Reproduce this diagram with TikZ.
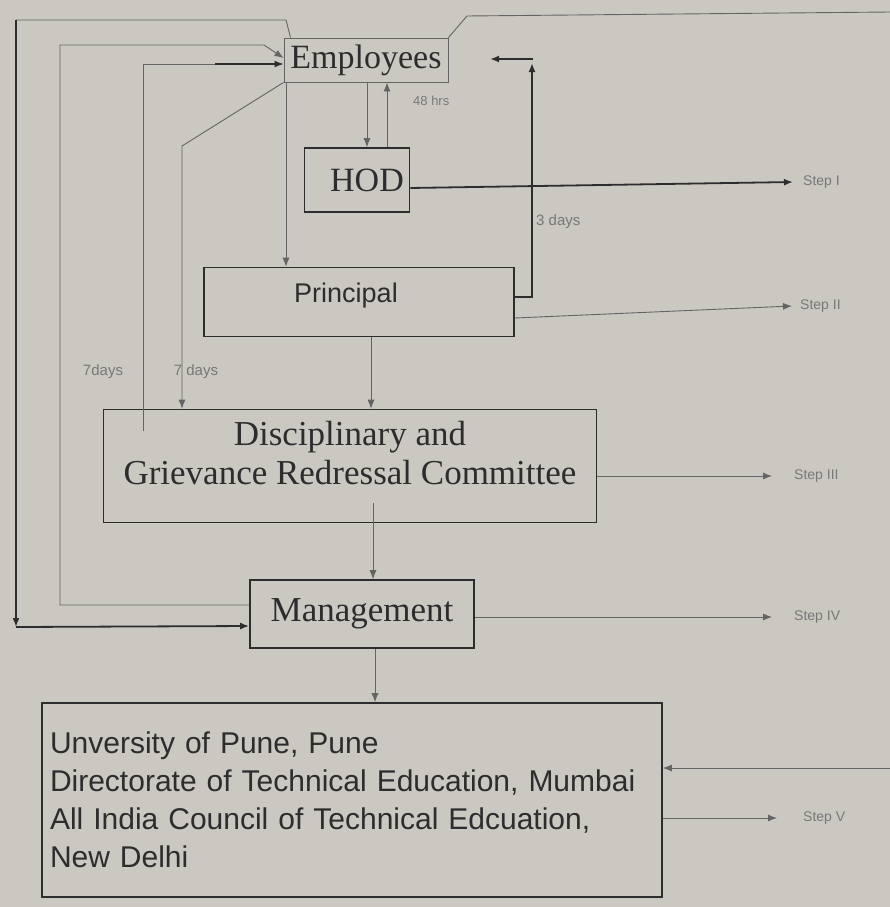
\documentclass[tikz,border=0pt]{standalone}
\usepackage{fontspec}
\setmainfont{Liberation Serif}
\setsansfont{Liberation Sans}
\usetikzlibrary{arrows.meta}
\definecolor{bg}{RGB}{203,200,194}
\definecolor{ink}{RGB}{45,45,45}
\definecolor{thin}{RGB}{100,100,100}
\definecolor{lab}{RGB}{120,120,120}
\begin{document}
\begin{tikzpicture}[x=1pt,y=-1pt,
  box/.style={draw=ink, line width=1.6pt, inner sep=0pt, text=ink},
  txt/.style={inner sep=0pt, text=ink},
  ln/.style={draw=thin, line width=0.9pt},
  lnm/.style={draw=ink, line width=1.3pt},
  lnb/.style={draw=ink, line width=1.8pt},
  tip/.style={-{Latex[length=9pt,width=7pt]}},
  serifbig/.style={font=\fontsize{34}{40}\selectfont},
  steplab/.style={font=\sffamily\fontsize{14}{16}\selectfont, text=lab, anchor=west, inner ysep=0pt},
  note/.style={font=\sffamily\fontsize{15}{17}\selectfont, text=lab, inner sep=0pt}]
\fill[bg] (0,0) rectangle (890,907);
\useasboundingbox (0,0) rectangle (890,907);

% boxes
\node[box, draw=thin, line width=0.9pt, minimum width=164pt, minimum height=44pt, serifbig] (emp) at (366,60) {Employees};
\node[box, minimum width=105pt, minimum height=64pt] (hod) at (357,180) {};
\node[txt, serifbig] (hodt) at (367,180) {HOD};
\node[box, minimum width=310pt, minimum height=69pt] (pri) at (359,302) {};
\node[txt, font=\sffamily\fontsize{27}{32}\selectfont] (prit) at (346,296) {Principal};
\node[box, minimum width=493pt, minimum height=113pt] (com) at (350,466) {};
\node[txt, align=center, font=\fontsize{35}{39}\selectfont] (comt) at (350,453) {Disciplinary and\\Grievance Redressal Committee};
\node[box, minimum width=224pt, minimum height=68pt, font=\fontsize{35}{40}\selectfont] (mgt) at (362,614) {Management};
\node[box, minimum width=620pt, minimum height=194pt, text width=604pt, align=left, inner xsep=8pt, font=\sffamily\fontsize{30}{38}\selectfont] (uni) at (352,800) {Unversity of Pune, Pune\\Directorate of Technical Education, Mumbai\\All India Council of Technical Edcuation,\\New Delhi};

% step labels
\node[steplab, inner xsep=10pt] (s1) at (793,182) {Step I};
\node[steplab, inner xsep=8pt] (s2) at (792,306) {Step II};
\node[steplab, inner xsep=22pt] (s3) at (772,476) {Step III};
\node[steplab, inner xsep=22pt] (s4) at (772,617) {Step IV};
\node[steplab, inner xsep=26pt] (s5) at (777,818) {Step V};

% notes
\node[note, anchor=west, font=\sffamily\fontsize{13}{15}\selectfont] (n48) at (413,101) {48 hrs};
\node[note, anchor=west] (n3) at (536,222) {3 days};
\node[note] (n7a) at (103,372) {7days};
\node[note] (n7b) at (196,372) {7 days};

% helper coordinates
\coordinate (c3) at (143,0);
\coordinate (c4) at (182,0);
\coordinate (c5) at (286,0);
\coordinate (c6) at (367,0);
\coordinate (c6b) at (387,0);
\coordinate (c7) at (371,0);
\coordinate (c8) at (373,0);
\coordinate (c9) at (375,0);
\coordinate (eW3) at ([yshift=-4pt]emp.west);
\coordinate (pe) at (490,59);
\coordinate (rin) at (890,768);
\coordinate (rtop) at (890,12);

% Employees -> Management (outer left loop)
\draw[ln] ([xshift=7pt]emp.north west) -- (286,20) -- (16,20);
\draw[lnb,tip] (16,20) -- (16,627);
\draw[lnb,tip] (16,627) -- ([yshift=-12pt]mgt.west);

% Management -> Employees
\draw[ln,tip] ([yshift=9pt]mgt.west) -- (60,605) -- (60,45) -- (264,45) -- ([yshift=2pt]emp.west);

% Committee -> Employees
\draw[ln] (c3 |- com.north) ++(0,22) -- (c3 |- eW3) -- (215,0 |- eW3);
\draw[lnm,tip] (215,0 |- eW3) -- (eW3);

% Employees -> Committee
\draw[ln,tip] (emp.south west) -- (182,146) -- (c4 |- com.north);

% Employees -> Principal
\draw[ln,tip] (c5 |- emp.south) -- (c5 |- pri.north);

% Employees <-> HOD
\draw[ln,tip] (c6 |- emp.south) -- (c6 |- hod.north);
\draw[ln,tip] (c6b |- hod.north) -- (c6b |- emp.south);

% HOD -> Step I
\draw[lnb,tip] ([yshift=-8pt]hod.east) -- (s1.west);

% Principal -> Employees
\draw[lnb,tip] ([yshift=5pt]pri.east) -- (532,297) -- (532,63);
\draw[lnb,tip] (533,59) -- (pe);

% Principal -> Step II
\draw[ln,tip] ([yshift=-16pt]pri.east) -- (s2.west);

% Principal -> Committee
\draw[ln,tip] (c7 |- pri.south) -- (c7 |- com.north);

% Committee -> Step III
\draw[ln,tip] ([yshift=-10pt]com.east) -- (s3.west);

% Committee -> Management
\draw[ln,tip] (c8 |- com.south) ++(0,-20) -- (c8 |- mgt.north);

% Management -> Step IV
\draw[ln,tip] ([yshift=-3pt]mgt.east) -- (s4.west);

% Management -> University
\draw[ln,tip] (c9 |- mgt.south) -- (c9 |- uni.north);

% incoming at right -> University
\draw[ln,tip] (rin) -- ([yshift=32pt]uni.east);

% University -> Step V
\draw[ln,tip] ([yshift=-18pt]uni.east) -- (s5.west);

% top right line
\draw[ln] (emp.north east) -- (467,16) -- (rtop);
\end{tikzpicture}
\end{document}
